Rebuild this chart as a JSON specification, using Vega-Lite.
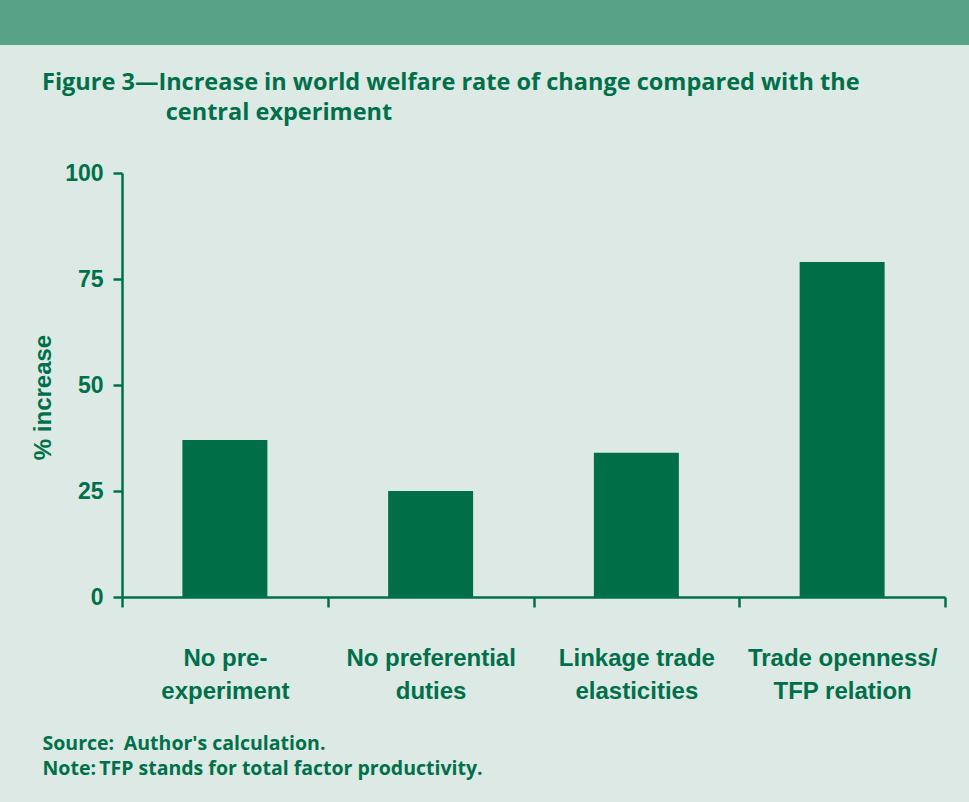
{
  "$schema": "https://vega.github.io/schema/vega-lite/v6.json",
  "width": 969,
  "height": 757,
  "autosize": {"type": "none"},
  "padding": {"top": 45, "left": 0, "right": 0, "bottom": 0},
  "background": "#58a287",
  "view": {"fill": "#dce9e4", "stroke": null},
  "title": {
    "text": ["Figure 3—Increase in world welfare rate of change compared with the", "\u200b\u2003\u2003\u2003\u2003\u2003\u2009\u200acentral experiment"],
    "anchor": "start",
    "frame": "group",
    "dx": 42,
    "dy": 53,
    "offset": -45,
    "baseline": "alphabetic",
    "lineHeight": 30,
    "font": "Open Sans",
    "fontSize": 23.5,
    "fontWeight": "bold",
    "color": "#00704a"
  },
  "data": {
    "values": [
      {"scenario": "No pre-\nexperiment", "increase": 37},
      {"scenario": "No preferential\nduties", "increase": 25},
      {"scenario": "Linkage trade\nelasticities", "increase": 34},
      {"scenario": "Trade openness/\nTFP relation", "increase": 79}
    ]
  },
  "mark": {"type": "bar", "color": "#006f47", "width": {"band": 0.413}},
  "encoding": {
    "x": {
      "field": "scenario",
      "type": "nominal",
      "sort": null,
      "scale": {"range": [122, 945], "paddingInner": 0, "paddingOuter": 0},
      "axis": {
        "orient": "bottom",
        "offset": -205,
        "labelAngle": 0,
        "tickBand": "extent",
        "tickSize": 10,
        "tickWidth": 2.5,
        "tickColor": "#00704a",
        "domainColor": "#00704a",
        "domainWidth": 2.5,
        "grid": false,
        "labelExpr": "split(datum.label, '\\n')",
        "labelFont": "Liberation Sans",
        "labelFontSize": 24,
        "labelFontWeight": "bold",
        "labelColor": "#00704a",
        "labelLineHeight": 33,
        "labelBaseline": "alphabetic",
        "labelPadding": 58,
        "labelLimit": 400,
        "labelOverlap": false,
        "title": ["Source:\u2002Author's calculation.", "Note:\u2009TFP stands for total factor productivity."],
        "titleX": 42,
        "titleY": 152,
        "titleAlign": "left",
        "titleAnchor": "start",
        "titleBaseline": "alphabetic",
        "titleFont": "Open Sans",
        "titleFontSize": 19.5,
        "titleFontWeight": "bold",
        "titleColor": "#00704a",
        "titleLineHeight": 25
      }
    },
    "y": {
      "field": "increase",
      "type": "quantitative",
      "scale": {"domain": [0, 100], "range": [552, 128], "nice": false},
      "axis": {
        "offset": -122,
        "values": [0, 25, 50, 75, 100],
        "grid": false,
        "tickSize": 9,
        "tickWidth": 2.5,
        "tickColor": "#00704a",
        "domainColor": "#00704a",
        "domainWidth": 2.5,
        "labelFont": "Liberation Sans",
        "labelFontSize": 23,
        "labelFontWeight": "bold",
        "labelColor": "#00704a",
        "labelPadding": 10,
        "title": "% increase",
        "titleFont": "Liberation Sans",
        "titleFontSize": 24,
        "titleFontWeight": "bold",
        "titleColor": "#00704a",
        "titleX": -72,
        "titleY": 352,
        "titleAngle": 270,
        "titleAlign": "center",
        "titleBaseline": "alphabetic"
      }
    }
  }
}
